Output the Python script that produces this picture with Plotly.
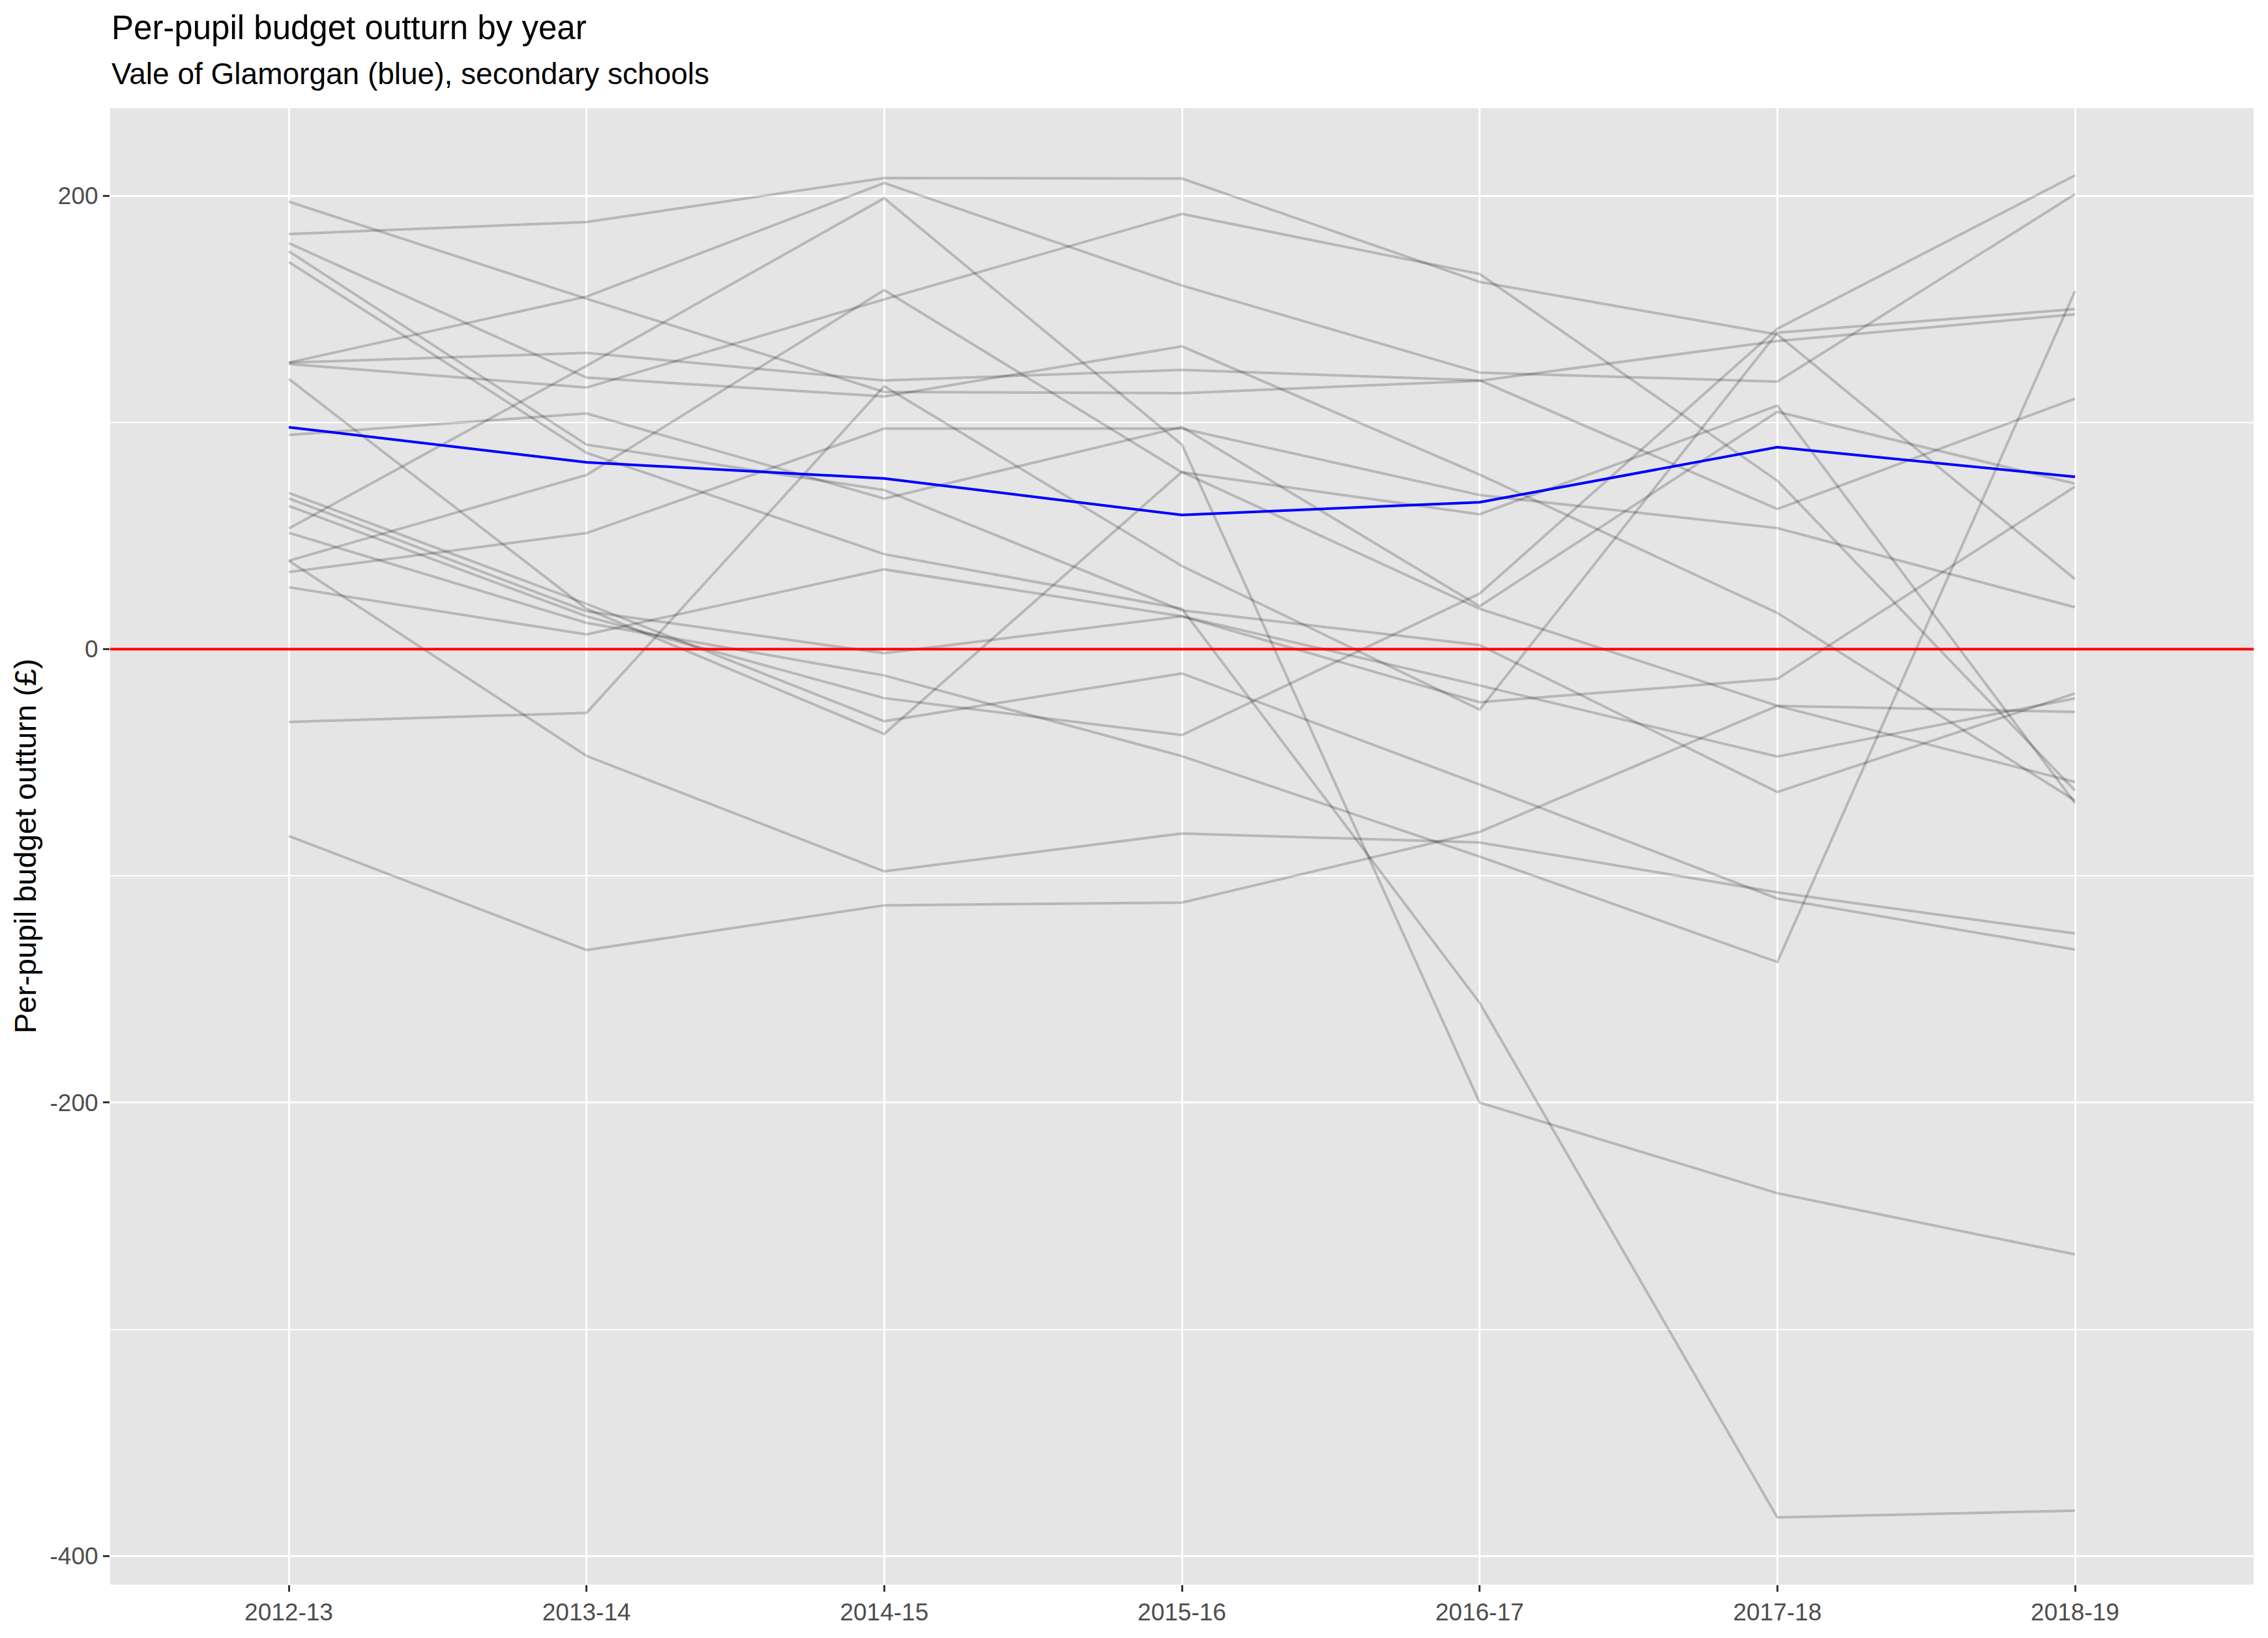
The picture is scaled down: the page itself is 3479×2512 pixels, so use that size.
import plotly.graph_objects as go

# ---- data -------------------------------------------------------------
years = ["2012-13", "2013-14", "2014-15", "2015-16", "2016-17", "2017-18", "2018-19"]

vale_of_glamorgan = [97.9, 82.4, 75.3, 59.2, 64.8, 89.1, 76.0]

la01 = [197.4, 154.6, 113.5, 112.9, 118.4, 135.9, 147.7]
la02 = [183.1, 188.4, 207.8, 207.6, 162.0, 138.8, 30.9]
la03 = [179.1, 119.8, 111.5, 133.6, 77.0, 16.0, -66.8]
la04 = [175.5, 90.2, 70.2, 17.1, 1.8, -63.0, -19.5]
la05 = [170.8, 86.6, 41.9, 17.8, -156.0, -383.0, -380.0]
la06 = [126.4, 155.5, 205.6, 160.4, 122.0, 118.0, 200.7]
la07 = [126.4, 130.7, 118.5, 123.2, 118.6, 61.8, 110.5]
la08 = [125.8, 115.4, 154.3, 192.0, 165.5, 74.3, -62.4]
la09 = [119.2, 17.8, -37.4, 78.2, 17.8, -25.0, -58.6]
la10 = [94.5, 104.0, 66.4, 98.0, 18.9, 104.7, 73.0]
la11 = [68.9, 20.0, -31.8, -10.7, -59.7, -110.0, -132.5]
la12 = [66.5, 16.7, -1.8, 14.5, -16.0, -47.4, -21.7]
la13 = [63.2, 14.5, -21.6, -37.9, 24.5, 141.3, 209.0]
la14 = [53.2, 125.0, 198.9, 90.2, -200.0, -240.0, -267.0]
la15 = [51.3, 11.6, -11.6, -47.2, -91.5, -138.0, 158.0]
la16 = [39.0, 76.8, 158.4, 78.0, 59.5, 107.4, -67.9]
la17 = [39.0, -47.1, -98.0, -81.3, -85.3, -107.3, -125.4]
la18 = [34.0, 51.2, 97.3, 97.3, 68.0, 53.4, 18.5]
la19 = [27.3, 6.5, 35.2, 14.5, -23.4, -13.1, 71.7]
la20 = [-32.1, -28.1, 116.0, 36.7, -26.7, 139.6, 150.0]
la21 = [-82.4, -132.7, -113.0, -111.8, -80.6, -25.0, -27.7]

other_authorities = [la01, la02, la03, la04, la05, la06, la07, la08, la09, la10,
                     la11, la12, la13, la14, la15, la16, la17, la18, la19, la20, la21]

zero_line_value = 0

y_tick_values = [-400, -200, 0, 200]
y_tick_labels = ["-400", "-200", "0", "200"]
y_minor_values = [-300, -100, 100]

# ---- figure -----------------------------------------------------------
W, H = 3479, 2512
ML, MR, MT, MB = 169, 22, 166, 82
PW, PH = W - ML - MR, H - MT - MB
FONT = "Liberation Sans, Arial, Helvetica, sans-serif"

fig = go.Figure()

# zero reference line (drawn first, on a hidden full-width axis)
fig.add_trace(go.Scatter(
    x=[0, 1], y=[zero_line_value, zero_line_value], xaxis="x2", mode="lines",
    line=dict(color="#FF0000", width=4), showlegend=False, hoverinfo="skip",
))

for i, vals in enumerate(other_authorities):
    fig.add_trace(go.Scatter(
        x=years, y=vals, mode="lines", name=f"LA {i+1}",
        line=dict(color="rgba(0,0,0,0.2)", width=4),
        showlegend=False, hoverinfo="skip",
    ))

fig.add_trace(go.Scatter(
    x=years, y=vale_of_glamorgan, mode="lines", name="Vale of Glamorgan",
    line=dict(color="#0000FF", width=4), showlegend=False,
))

fig.update_layout(
    width=W, height=H,
    margin=dict(l=ML, r=MR, t=MT, b=MB, pad=0),
    paper_bgcolor="white",
    plot_bgcolor="#E5E5E5",
    font=dict(family=FONT, size=37, color="#4D4D4D"),
    showlegend=False,
    xaxis2=dict(overlaying="x", range=[0, 1], visible=False, showgrid=False,
                zeroline=False, fixedrange=True),
)

fig.update_xaxes(
    selector=dict(anchor="y") if False else None,
)

fig.update_layout(xaxis=dict(
    type="category", range=[-0.6, 6.6],
    showgrid=True, gridcolor="white", gridwidth=3.3,
    zeroline=False, showline=False,
    ticks="outside", ticklen=10, tickwidth=3, tickcolor="#333333",
    tickfont=dict(family=FONT, size=37, color="#4D4D4D"),
))

fig.update_yaxes(
    range=[-412.6, 238.6],
    tickmode="array", tickvals=y_tick_values, ticktext=y_tick_labels,
    showgrid=True, gridcolor="white", gridwidth=3.3,
    zeroline=False, showline=False,
    ticks="outside", ticklen=10, tickwidth=3, tickcolor="#333333",
    tickfont=dict(family=FONT, size=37, color="#4D4D4D"),
    minor=dict(tickmode="array", tickvals=y_minor_values, showgrid=True,
               gridcolor="white", gridwidth=1.7, ticklen=0),
)

# titles (ggplot style, left aligned to panel)
fig.add_annotation(
    text="Per-pupil budget outturn by year", xref="paper", yref="paper",
    x=0, y=1 + (MT - 42) / PH, xanchor="left", yanchor="middle",
    showarrow=False, font=dict(family=FONT, size=51, color="black"),
)
fig.add_annotation(
    text="Vale of Glamorgan (blue), secondary schools", xref="paper", yref="paper",
    x=0, y=1 + (MT - 113) / PH, xanchor="left", yanchor="middle",
    showarrow=False, font=dict(family=FONT, size=46, color="black"),
)
fig.add_annotation(
    text="Per-pupil budget outturn (£)", xref="paper", yref="paper",
    x=(38 - ML) / PW, y=0.5, xanchor="center", yanchor="middle", textangle=-90,
    showarrow=False, font=dict(family=FONT, size=47, color="black"),
)

fig.write_html("out.html",
               config={"displayModeBar": False},
               post_script="document.body.style.margin='0';document.body.style.overflow='hidden';")
